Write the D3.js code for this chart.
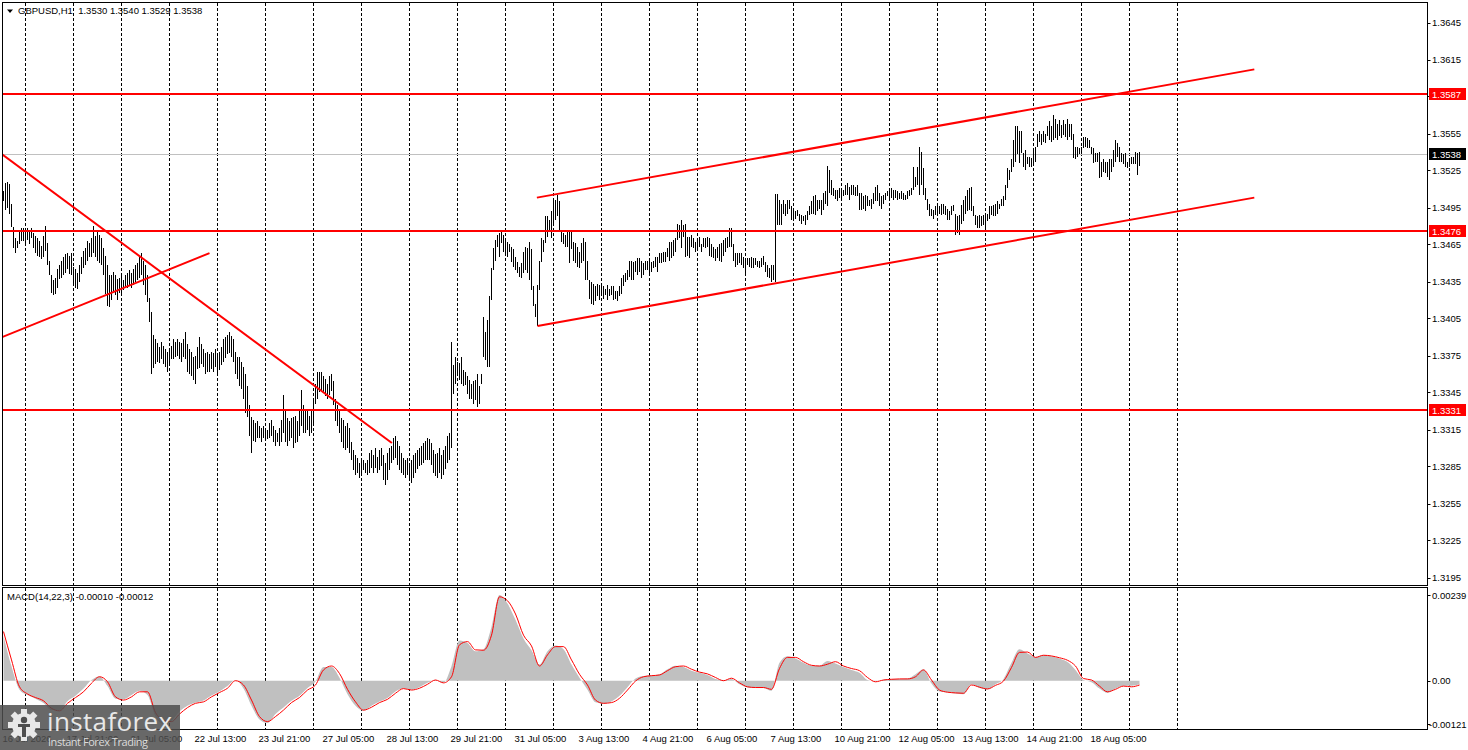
<!DOCTYPE html>
<html>
<head>
<meta charset="utf-8">
<script src="https://cdn.jsdelivr.net/npm/d3@7/dist/d3.min.js"></script>
<style>
body { margin: 0; background: #ffffff; overflow: hidden; }
</style>
</head>
<body>
<div id="chart_container"></div>
<script>

var chart_title = 'GBPUSD,H1  1.3530 1.3540 1.3529 1.3538'
var macd_title = 'MACD(14,22,3) -0.00010 -0.00012'

// hourly bars, index 0 = 16 Jul 13:00, one bar per trading hour
var barHigh = [
1.3508,1.3515,1.3516,1.3514,1.3498,1.3479,1.3470,1.3468,1.3475,1.3478,
1.3478,1.3477,1.3478,1.3477,1.3478,1.3474,1.3472,1.3470,1.3468,1.3464,
1.3472,1.3480,1.3466,1.3452,1.3440,1.3436,1.3438,1.3445,1.3448,1.3452,
1.3455,1.3457,1.3458,1.3456,1.3458,1.3447,1.3445,1.3442,1.3448,1.3455,
1.3460,1.3462,1.3468,1.3466,1.3470,1.3480,1.3472,1.3475,1.3473,1.3470,
1.3462,1.3456,1.3448,1.3440,1.3440,1.3443,1.3440,1.3437,1.3438,1.3440,
1.3436,1.3440,1.3442,1.3444,1.3442,1.3445,1.3448,1.3450,1.3455,1.3458,
1.3452,1.3448,1.3440,1.3422,1.3410,1.3392,1.3388,1.3385,1.3382,1.3386,
1.3383,1.3380,1.3378,1.3381,1.3383,1.3388,1.3386,1.3388,1.3386,1.3385,
1.3388,1.3394,1.3384,1.3380,1.3378,1.3374,1.3375,1.3382,1.3390,1.3384,
1.3380,1.3377,1.3378,1.3376,1.3378,1.3377,1.3380,1.3376,1.3378,1.3382,
1.3388,1.3390,1.3392,1.3394,1.3391,1.3388,1.3378,1.3374,1.3374,1.3370,
1.3366,1.3360,1.3350,1.3335,1.3325,1.3323,1.3320,1.3322,1.3318,1.3316,
1.3318,1.3316,1.3315,1.3320,1.3323,1.3318,1.3315,1.3312,1.3316,1.3323,
1.3343,1.3330,1.3324,1.3322,1.3324,1.3325,1.3326,1.3322,1.3330,1.3347,
1.3335,1.3330,1.3332,1.3326,1.3330,1.3340,1.3352,1.3362,1.3362,1.3362,
1.3358,1.3356,1.3352,1.3358,1.3360,1.3354,1.3340,1.3335,1.3330,1.3324,
1.3323,1.3318,1.3320,1.3316,1.3305,1.3298,1.3294,1.3292,1.3288,1.3292,
1.3290,1.3288,1.3290,1.3296,1.3298,1.3294,1.3300,1.3293,1.3298,1.3300,
1.3294,1.3288,1.3296,1.3300,1.3302,1.3308,1.3310,1.3306,1.3302,1.3296,
1.3292,1.3290,1.3292,1.3288,1.3290,1.3294,1.3296,1.3298,1.3300,1.3302,
1.3304,1.3306,1.3308,1.3307,1.3304,1.3298,1.3295,1.3296,1.3300,1.3294,
1.3298,1.3302,1.3310,1.3312,1.3386,1.3367,1.3374,1.3370,1.3369,1.3374,
1.3363,1.3362,1.3358,1.3355,1.3352,1.3354,1.3355,1.3360,1.3350,1.3360,
1.3406,1.3394,1.3404,1.3423,1.3446,1.3462,1.3469,1.3473,1.3474,1.3477,
1.3473,1.3470,1.3467,1.3465,1.3463,1.3461,1.3455,1.3451,1.3447,1.3450,
1.3459,1.3463,1.3462,1.3467,1.3461,1.3431,1.3417,1.3432,1.3452,1.3470,
1.3469,1.3488,1.3488,1.3485,1.3492,1.3501,1.3501,1.3505,1.3500,1.3477,
1.3474,1.3473,1.3477,1.3477,1.3475,1.3467,1.3466,1.3463,1.3459,1.3466,
1.3470,1.3467,1.3452,1.3436,1.3435,1.3433,1.3431,1.3433,1.3432,1.3431,
1.3431,1.3429,1.3432,1.3429,1.3431,1.3431,1.3427,1.3427,1.3431,1.3438,
1.3440,1.3442,1.3444,1.3452,1.3452,1.3451,1.3452,1.3454,1.3454,1.3452,
1.3450,1.3452,1.3452,1.3452,1.3451,1.3452,1.3455,1.3455,1.3458,1.3458,
1.3459,1.3459,1.3462,1.3467,1.3467,1.3469,1.3470,1.3482,1.3481,1.3485,
1.3481,1.3482,1.3471,1.3471,1.3473,1.3470,1.3467,1.3469,1.3471,1.3465,
1.3470,1.3470,1.3471,1.3470,1.3465,1.3463,1.3461,1.3463,1.3465,1.3466,
1.3469,1.3470,1.3471,1.3478,1.3478,1.3465,1.3458,1.3458,1.3458,1.3458,
1.3455,1.3454,1.3454,1.3454,1.3455,1.3454,1.3454,1.3452,1.3452,1.3454,
1.3456,1.3451,1.3448,1.3446,1.3448,1.3448,1.3506,1.3506,1.3501,1.3498,
1.3501,1.3498,1.3501,1.3501,1.3496,1.3493,1.3492,1.3493,1.3490,1.3489,
1.3488,1.3489,1.3492,1.3496,1.3500,1.3504,1.3505,1.3501,1.3501,1.3501,
1.3507,1.3508,1.3529,1.3525,1.3517,1.3511,1.3509,1.3509,1.3511,1.3508,
1.3509,1.3513,1.3515,1.3512,1.3513,1.3513,1.3512,1.3513,1.3507,1.3507,
1.3504,1.3505,1.3504,1.3501,1.3502,1.3507,1.3512,1.3513,1.3507,1.3504,
1.3505,1.3507,1.3508,1.3508,1.3511,1.3509,1.3509,1.3508,1.3507,1.3508,
1.3507,1.3505,1.3508,1.3509,1.3511,1.3528,1.3520,1.3528,1.3544,1.3540,
1.3527,1.3511,1.3502,1.3498,1.3494,1.3493,1.3496,1.3497,1.3496,1.3498,
1.3498,1.3496,1.3494,1.3492,1.3496,1.3497,1.3490,1.3488,1.3489,1.3497,
1.3501,1.3504,1.3509,1.3511,1.3512,1.3496,1.3489,1.3488,1.3489,1.3488,
1.3489,1.3490,1.3490,1.3496,1.3496,1.3497,1.3498,1.3500,1.3498,1.3502,
1.3504,1.3513,1.3527,1.3525,1.3534,1.3550,1.3561,1.3561,1.3557,1.3557,
1.3539,1.3542,1.3536,1.3536,1.3535,1.3543,1.3544,1.3555,1.3557,1.3555,
1.3557,1.3555,1.3561,1.3565,1.3561,1.3570,1.3567,1.3563,1.3566,1.3562,
1.3566,1.3563,1.3567,1.3563,1.3563,1.3555,1.3544,1.3544,1.3543,1.3544,
1.3552,1.3552,1.3551,1.3550,1.3544,1.3543,1.3539,1.3539,1.3540,1.3532,
1.3534,1.3532,1.3532,1.3534,1.3534,1.3542,1.3550,1.3547,1.3544,1.3539,
1.3538,1.3539,1.3532,1.3535,1.3536,1.3536,1.3540,1.3539,1.3540
]

var barLow = [
1.3500,1.3493,1.3495,1.3490,1.3479,1.3462,1.3458,1.3462,1.3465,1.3468,
1.3468,1.3466,1.3469,1.3465,1.3470,1.3462,1.3458,1.3456,1.3455,1.3453,
1.3455,1.3460,1.3448,1.3440,1.3426,1.3424,1.3425,1.3430,1.3437,1.3438,
1.3440,1.3442,1.3445,1.3441,1.3440,1.3432,1.3430,1.3429,1.3435,1.3441,
1.3446,1.3448,1.3452,1.3455,1.3455,1.3458,1.3455,1.3452,1.3450,1.3448,
1.3440,1.3425,1.3415,1.3414,1.3420,1.3427,1.3424,1.3420,1.3426,1.3425,
1.3428,1.3430,1.3430,1.3431,1.3430,1.3432,1.3435,1.3436,1.3438,1.3440,
1.3432,1.3424,1.3418,1.3402,1.3360,1.3365,1.3368,1.3370,1.3369,1.3372,
1.3368,1.3366,1.3362,1.3368,1.3372,1.3372,1.3374,1.3375,1.3372,1.3370,
1.3374,1.3372,1.3362,1.3360,1.3358,1.3355,1.3352,1.3364,1.3365,1.3368,
1.3366,1.3360,1.3362,1.3362,1.3364,1.3362,1.3366,1.3361,1.3363,1.3367,
1.3370,1.3373,1.3376,1.3377,1.3374,1.3370,1.3360,1.3356,1.3350,1.3348,
1.3340,1.3328,1.3325,1.3310,1.3296,1.3306,1.3305,1.3308,1.3308,1.3305,
1.3308,1.3306,1.3307,1.3308,1.3310,1.3305,1.3302,1.3305,1.3302,1.3305,
1.3312,1.3305,1.3302,1.3306,1.3308,1.3300,1.3304,1.3305,1.3310,1.3318,
1.3312,1.3312,1.3315,1.3310,1.3312,1.3320,1.3336,1.3340,1.3345,1.3347,
1.3345,1.3342,1.3340,1.3343,1.3346,1.3335,1.3322,1.3318,1.3312,1.3305,
1.3300,1.3298,1.3300,1.3296,1.3290,1.3282,1.3278,1.3280,1.3276,1.3278,
1.3282,1.3280,1.3278,1.3280,1.3284,1.3280,1.3284,1.3280,1.3282,1.3285,
1.3274,1.3270,1.3274,1.3282,1.3288,1.3290,1.3292,1.3286,1.3282,1.3280,
1.3278,1.3276,1.3278,1.3274,1.3272,1.3276,1.3280,1.3283,1.3285,1.3286,
1.3288,1.3290,1.3290,1.3290,1.3286,1.3280,1.3277,1.3276,1.3280,1.3275,
1.3278,1.3283,1.3288,1.3290,1.3300,1.3344,1.3352,1.3358,1.3355,1.3352,
1.3350,1.3351,1.3344,1.3340,1.3340,1.3336,1.3339,1.3333,1.3336,1.3352,
1.3374,1.3371,1.3366,1.3366,1.3420,1.3444,1.3452,1.3463,1.3455,1.3466,
1.3459,1.3458,1.3455,1.3459,1.3451,1.3447,1.3444,1.3442,1.3439,1.3438,
1.3442,1.3444,1.3442,1.3436,1.3428,1.3415,1.3406,1.3399,1.3428,1.3451,
1.3459,1.3466,1.3471,1.3475,1.3470,1.3482,1.3485,1.3488,1.3477,1.3467,
1.3465,1.3463,1.3463,1.3450,1.3461,1.3452,1.3450,1.3447,1.3446,1.3450,
1.3452,1.3436,1.3436,1.3421,1.3417,1.3416,1.3419,1.3423,1.3420,1.3423,
1.3421,1.3424,1.3420,1.3423,1.3424,1.3420,1.3421,1.3419,1.3423,1.3425,
1.3431,1.3435,1.3436,1.3439,1.3436,1.3436,1.3443,1.3440,1.3443,1.3438,
1.3440,1.3444,1.3444,1.3442,1.3443,1.3446,1.3447,1.3443,1.3450,1.3450,
1.3451,1.3451,1.3455,1.3452,1.3454,1.3456,1.3459,1.3469,1.3470,1.3462,
1.3471,1.3455,1.3456,1.3454,1.3463,1.3462,1.3459,1.3462,1.3463,1.3459,
1.3463,1.3462,1.3463,1.3456,1.3455,1.3454,1.3452,1.3454,1.3452,1.3451,
1.3456,1.3459,1.3462,1.3463,1.3463,1.3452,1.3447,1.3448,1.3450,1.3448,
1.3446,1.3442,1.3448,1.3447,1.3446,1.3446,1.3448,1.3447,1.3446,1.3447,
1.3448,1.3443,1.3439,1.3438,1.3435,1.3436,1.3435,1.3481,1.3481,1.3481,
1.3490,1.3488,1.3490,1.3494,1.3485,1.3485,1.3486,1.3488,1.3484,1.3482,
1.3484,1.3481,1.3485,1.3489,1.3490,1.3490,1.3489,1.3492,1.3494,1.3489,
1.3493,1.3498,1.3496,1.3507,1.3505,1.3504,1.3502,1.3500,1.3503,1.3501,
1.3504,1.3505,1.3505,1.3501,1.3505,1.3505,1.3504,1.3504,1.3493,1.3493,
1.3494,1.3492,1.3496,1.3496,1.3494,1.3498,1.3500,1.3500,1.3496,1.3494,
1.3498,1.3501,1.3504,1.3501,1.3503,1.3501,1.3503,1.3501,1.3502,1.3502,
1.3501,1.3501,1.3502,1.3504,1.3505,1.3509,1.3512,1.3513,1.3505,1.3513,
1.3505,1.3501,1.3493,1.3488,1.3488,1.3486,1.3489,1.3488,1.3490,1.3489,
1.3490,1.3489,1.3485,1.3485,1.3489,1.3492,1.3473,1.3474,1.3473,1.3482,
1.3484,1.3490,1.3492,1.3493,1.3492,1.3488,1.3481,1.3478,1.3478,1.3480,
1.3481,1.3478,1.3484,1.3486,1.3489,1.3488,1.3488,1.3490,1.3494,1.3496,
1.3496,1.3501,1.3511,1.3517,1.3524,1.3528,1.3532,1.3538,1.3531,1.3539,
1.3528,1.3525,1.3530,1.3528,1.3528,1.3530,1.3532,1.3544,1.3548,1.3546,
1.3548,1.3547,1.3553,1.3550,1.3548,1.3550,1.3551,1.3550,1.3553,1.3551,
1.3554,1.3552,1.3550,1.3552,1.3550,1.3535,1.3534,1.3536,1.3538,1.3539,
1.3543,1.3544,1.3543,1.3543,1.3538,1.3531,1.3532,1.3532,1.3519,1.3520,
1.3524,1.3523,1.3520,1.3517,1.3524,1.3528,1.3532,1.3536,1.3532,1.3532,
1.3530,1.3528,1.3527,1.3528,1.3530,1.3530,1.3530,1.3521,1.3529
]

// MACD read every 4th bar (bar index = position * 4)
var macdMain = [
0.00125,0.00040,-0.00025,-0.00040,-0.00050,-0.00062,-0.00082,-0.00082,-0.00057,-0.00042,
-0.00022,0.00002,0.00012,-0.00015,-0.00050,-0.00052,-0.00040,-0.00028,-0.00040,-0.00100,
-0.00121,-0.00112,-0.00086,-0.00070,-0.00061,-0.00055,-0.00041,-0.00030,-0.00015,0.00001,
-0.00022,-0.00070,-0.00108,-0.00118,-0.00093,-0.00075,-0.00056,-0.00042,-0.00020,-0.00002,
0.00038,0.00038,0.00008,-0.00038,-0.00070,-0.00084,-0.00070,-0.00058,-0.00048,-0.00030,
-0.00022,-0.00025,-0.00018,-0.00006,0.00002,-0.00006,0.00040,0.00112,0.00105,0.00082,
0.00088,0.00150,0.00239,0.00215,0.00170,0.00118,0.00085,0.00045,0.00082,0.00098,
0.00088,0.00045,0.00008,-0.00025,-0.00060,-0.00064,-0.00058,-0.00042,-0.00018,0.00006,
0.00013,0.00015,0.00018,0.00032,0.00042,0.00038,0.00028,0.00022,0.00016,0.00005,
0.00002,0.00005,-0.00010,-0.00019,-0.00020,-0.00020,-0.00028,0.00050,0.00068,0.00062,
0.00050,0.00042,0.00042,0.00055,0.00048,0.00038,0.00030,0.00022,0.00002,-0.00002,
0.00003,0.00005,0.00005,0.00006,0.00018,0.00032,-0.00008,-0.00030,-0.00033,-0.00036,
-0.00038,-0.00010,-0.00020,-0.00024,-0.00010,0.00005,0.00050,0.00088,0.00076,0.00066,
0.00072,0.00068,0.00062,0.00052,0.00030,0.00002,-0.00004,-0.00022,-0.00034,-0.00022,
-0.00014,-0.00014,-0.00010
]

var macdSignal = [
0.00137,0.00058,-0.00017,-0.00037,-0.00047,-0.00056,-0.00077,-0.00084,-0.00063,-0.00047,
-0.00031,-0.00007,0.00011,-0.00003,-0.00045,-0.00054,-0.00045,-0.00031,-0.00031,-0.00089,
-0.00110,-0.00114,-0.00093,-0.00075,-0.00063,-0.00059,-0.00045,-0.00033,-0.00021,0.00000,
-0.00012,-0.00054,-0.00100,-0.00114,-0.00100,-0.00082,-0.00061,-0.00047,-0.00026,-0.00012,
0.00030,0.00041,0.00020,-0.00024,-0.00059,-0.00082,-0.00074,-0.00061,-0.00052,-0.00035,
-0.00022,-0.00026,-0.00021,-0.00010,0.00002,-0.00006,0.00011,0.00100,0.00109,0.00086,
0.00085,0.00127,0.00234,0.00223,0.00186,0.00127,0.00097,0.00041,0.00072,0.00095,
0.00095,0.00058,0.00018,-0.00012,-0.00054,-0.00063,-0.00061,-0.00049,-0.00026,-0.00001,
0.00011,0.00014,0.00016,0.00028,0.00039,0.00041,0.00032,0.00024,0.00019,0.00009,
0.00000,0.00007,-0.00006,-0.00017,-0.00019,-0.00019,-0.00024,0.00034,0.00065,0.00065,
0.00053,0.00043,0.00041,0.00046,0.00053,0.00041,0.00034,0.00028,0.00009,-0.00003,
0.00002,0.00004,0.00005,0.00005,0.00011,0.00030,0.00002,-0.00026,-0.00032,-0.00034,
-0.00035,-0.00012,-0.00018,-0.00023,-0.00013,-0.00001,0.00037,0.00079,0.00080,0.00065,
0.00071,0.00069,0.00064,0.00057,0.00041,0.00006,0.00002,-0.00015,-0.00031,-0.00024,
-0.00015,-0.00017,-0.00012
]
var macdStep = 4

// horizontal levels and current bid
var levelPrices = [1.3587, 1.3476, 1.3331]
var bidPrice = 1.3538

// trend lines: [start bar, start price, end bar, end price]
var trendLines = [
    [-0.6, 1.3538, 194.2, 1.3304],
    [-0.6, 1.3390, 103.0, 1.3458],
    [266.7, 1.3503, 625.4, 1.3607],
    [267.0, 1.3399, 625.4, 1.3503]
]

var priceTicks = [1.3645, 1.3615, 1.3585, 1.3555, 1.3525, 1.3495, 1.3465, 1.3435, 1.3405, 1.3375, 1.3345, 1.3315, 1.3285, 1.3255, 1.3225, 1.3195]
var macdTicks = [0.00239, 0, -0.00121]
var macdTickLabels = ['0.00239', '0.00', '-0.00121']

var timeLabels = ['16 Jul 2026', '17 Jul 21:00', '21 Jul 05:00', '22 Jul 13:00', '23 Jul 21:00', '27 Jul 05:00', '28 Jul 13:00', '29 Jul 21:00', '31 Jul 05:00', '3 Aug 13:00', '4 Aug 21:00', '6 Aug 05:00', '7 Aug 13:00', '10 Aug 21:00', '12 Aug 05:00', '13 Aug 13:00', '14 Aug 21:00', '18 Aug 05:00']
var timeLabelBars = [0, 32, 64, 96, 128, 160, 192, 224, 256, 288, 320, 352, 384, 416, 448, 480, 512, 544]
// first bar of every day (vertical grid)
var dayStartBars = [11, 35, 59, 83, 107, 131, 155, 179, 203, 227, 251, 275, 299, 323, 347, 371, 395, 419, 443, 467, 491, 515, 539, 563, 587]


var W = 1468, H = 750
var mainTop = 2.5, mainBottom = 585.5, macdTop = 587.5, macdBottom = 729.5
var plotLeft = 2.5, plotRight = 1427.5

var svg = d3.select("#chart_container")
            .append("svg")
            .attr("width", W)
            .attr("height", H)
            .style("font-family", '"Liberation Sans", Arial, sans-serif')
            .style("font-size", "9.5px")

svg.append("rect").attr("width", W).attr("height", H).attr("fill", "#ffffff")

var x = d3.scaleLinear().domain([0, 568]).range([3.5, 1139.5])
var y = d3.scaleLinear().domain([1.3195, 1.3645]).range([577.5, 22.5])
var yMacd = d3.scaleLinear().domain([-0.00121, 0.00239]).range([724.1, 595])

var defs = svg.append("defs")
defs.append("clipPath").attr("id", "clip_main")
    .append("rect").attr("x", 3).attr("y", 3).attr("width", 1424).attr("height", 582)
defs.append("clipPath").attr("id", "clip_macd")
    .append("rect").attr("x", 3).attr("y", 588).attr("width", 1424).attr("height", 141)

// vertical dashed grid in both panels
var grid = svg.append("g").attr("stroke", "#000").attr("stroke-width", 1).attr("stroke-dasharray", "3,2").attr("shape-rendering", "crispEdges")
grid.selectAll(".grid_main")
    .data(dayStartBars)
    .enter()
    .append("line")
        .attr("x1", function(d){ return x(d) })
        .attr("x2", function(d){ return x(d) })
        .attr("y1", mainTop)
        .attr("y2", mainBottom)
grid.selectAll(".grid_macd")
    .data(dayStartBars)
    .enter()
    .append("line")
        .attr("x1", function(d){ return x(d) })
        .attr("x2", function(d){ return x(d) })
        .attr("y1", macdTop)
        .attr("y2", macdBottom)

var main = svg.append("g").attr("clip-path", "url(#clip_main)")

// bid line
main.append("line")
    .attr("x1", plotLeft).attr("x2", plotRight)
    .attr("y1", Math.round(y(bidPrice)) + 0.5).attr("y2", Math.round(y(bidPrice)) + 0.5)
    .attr("stroke", "#c0c0c0").attr("stroke-width", 1)

// price bars (high - low)
main.append("g")
    .attr("stroke", "#000")
    .attr("stroke-width", 1)
    .attr("shape-rendering", "crispEdges")
    .selectAll("line")
    .data(barHigh)
    .enter()
    .append("line")
        .attr("x1", function(d, i){ return x(i) })
        .attr("x2", function(d, i){ return x(i) })
        .attr("y1", function(d){ return Math.round(y(d)) })
        .attr("y2", function(d, i){ return Math.max(Math.round(y(barLow[i])), Math.round(y(d)) + 2) })

// horizontal levels
main.selectAll(".level")
    .data(levelPrices)
    .enter()
    .append("line")
        .attr("x1", plotLeft).attr("x2", plotRight)
        .attr("y1", function(d){ return Math.round(y(d)) })
        .attr("y2", function(d){ return Math.round(y(d)) })
        .attr("stroke", "#ff0000").attr("stroke-width", 2)

// trend lines
main.selectAll(".trend")
    .data(trendLines)
    .enter()
    .append("line")
        .attr("x1", function(d){ return x(d[0]) })
        .attr("y1", function(d){ return y(d[1]) })
        .attr("x2", function(d){ return x(d[2]) })
        .attr("y2", function(d){ return y(d[3]) })
        .attr("stroke", "#ff0000").attr("stroke-width", 2)

// MACD panel
var macd = svg.append("g").attr("clip-path", "url(#clip_macd)")

macd.append("path")
    .datum(macdMain)
    .attr("fill", "#c0c0c0")
    .attr("d", d3.area()
                .curve(d3.curveMonotoneX)
                .x(function(d, i){ return x(i * macdStep) })
                .y0(yMacd(0))
                .y1(function(d){ return yMacd(d) }))

macd.append("path")
    .datum(macdSignal)
    .attr("fill", "none")
    .attr("stroke", "#ff0000")
    .attr("stroke-width", 1)
    .attr("d", d3.line()
                .curve(d3.curveMonotoneX)
                .x(function(d, i){ return x(i * macdStep) })
                .y(function(d){ return yMacd(d) }))

// panel borders
var borders = svg.append("g").attr("fill", "none").attr("stroke", "#000").attr("stroke-width", 1).attr("shape-rendering", "crispEdges")
borders.append("rect").attr("x", plotLeft).attr("y", mainTop).attr("width", plotRight - plotLeft).attr("height", mainBottom - mainTop)
borders.append("rect").attr("x", plotLeft).attr("y", macdTop).attr("width", plotRight - plotLeft).attr("height", macdBottom - macdTop)

// price axis
var priceAxis = svg.append("g")
priceAxis.selectAll("line")
    .data(priceTicks)
    .enter()
    .append("line")
        .attr("x1", plotRight).attr("x2", plotRight + 3)
        .attr("y1", function(d){ return Math.round(y(d)) + 0.5 })
        .attr("y2", function(d){ return Math.round(y(d)) + 0.5 })
        .attr("stroke", "#000")
priceAxis.selectAll("text")
    .data(priceTicks)
    .enter()
    .append("text")
        .attr("x", 1432)
        .attr("y", function(d){ return y(d) + 3.5 })
        .attr("fill", "#000")
        .text(function(d){ return d.toFixed(4) })

// marker boxes on the price axis
var markers = levelPrices.map(function(p){ return {price: p, color: "#ff0000"} })
markers.push({price: bidPrice, color: "#000000"})
var markerG = priceAxis.selectAll(".marker")
    .data(markers)
    .enter()
    .append("g")
markerG.append("rect")
    .attr("x", 1429)
    .attr("y", function(d){ return Math.round(y(d.price)) - 6 })
    .attr("width", 37)
    .attr("height", 12)
    .attr("fill", function(d){ return d.color })
markerG.append("text")
    .attr("x", 1432)
    .attr("y", function(d){ return Math.round(y(d.price)) + 3.5 })
    .attr("fill", "#ffffff")
    .text(function(d){ return d.price.toFixed(4) })

// MACD axis
var macdAxis = svg.append("g")
macdAxis.selectAll("line")
    .data(macdTicks)
    .enter()
    .append("line")
        .attr("x1", plotRight).attr("x2", plotRight + 3)
        .attr("y1", function(d){ return Math.round(yMacd(d)) + 0.5 })
        .attr("y2", function(d){ return Math.round(yMacd(d)) + 0.5 })
        .attr("stroke", "#000")
macdAxis.selectAll("text")
    .data(macdTicks)
    .enter()
    .append("text")
        .attr("x", function(d, i){ return d < 0 ? 1429 : 1432 })
        .attr("y", function(d){ return yMacd(d) + 3.5 })
        .attr("fill", "#000")
        .text(function(d, i){ return macdTickLabels[i] })

// time axis
svg.append("g")
    .selectAll("text")
    .data(timeLabels)
    .enter()
    .append("text")
        .attr("x", function(d, i){ return x(timeLabelBars[i]) - 1 })
        .attr("y", 741.5)
        .attr("fill", "#000")
        .text(function(d){ return d })

// titles
svg.append("path").attr("d", "M7,9.5 L13,9.5 L10,13 Z").attr("fill", "#000")
svg.append("text").attr("x", 18).attr("y", 14).attr("fill", "#000").style("white-space", "pre").text(chart_title)
svg.append("text").attr("x", 7).attr("y", 599.5).attr("fill", "#000").text(macd_title)

// watermark
var logo = svg.append("g")
logo.append("rect").attr("x", 0).attr("y", 705).attr("width", 180).attr("height", 45).attr("fill", "#4e4e4e").attr("opacity", 0.85)
var gear = logo.append("g").attr("transform", "translate(24,725)").attr("fill", "#e8e8e8")
for (var t = 0; t < 8; t++) {
    gear.append("rect").attr("x", -3).attr("y", -16).attr("width", 6).attr("height", 7).attr("transform", "rotate(" + (t * 45) + ")")
}
gear.append("circle").attr("r", 12)
gear.append("circle").attr("cy", -5).attr("r", 3.2).attr("fill", "#4e4e4e")
gear.append("path").attr("d", "M-6,-1 L6,-1 L6,2 L2,2 L2,12 L-2,12 L-2,2 L-6,2 Z").attr("fill", "#4e4e4e")
logo.append("text").attr("x", 47).attr("y", 731)
    .attr("fill", "#e8e8e8")
    .attr("textLength", 125)
    .style("font-family", '"Open Sans", "Noto Sans", sans-serif')
    .style("font-size", "26px")
    .text("instaforex")
logo.append("text").attr("x", 48).attr("y", 746)
    .attr("fill", "#dcdcdc")
    .attr("textLength", 100)
    .style("font-family", '"Open Sans", "Noto Sans", sans-serif')
    .style("font-size", "11px")
    .text("Instant Forex Trading")

</script>
</body>
</html>
